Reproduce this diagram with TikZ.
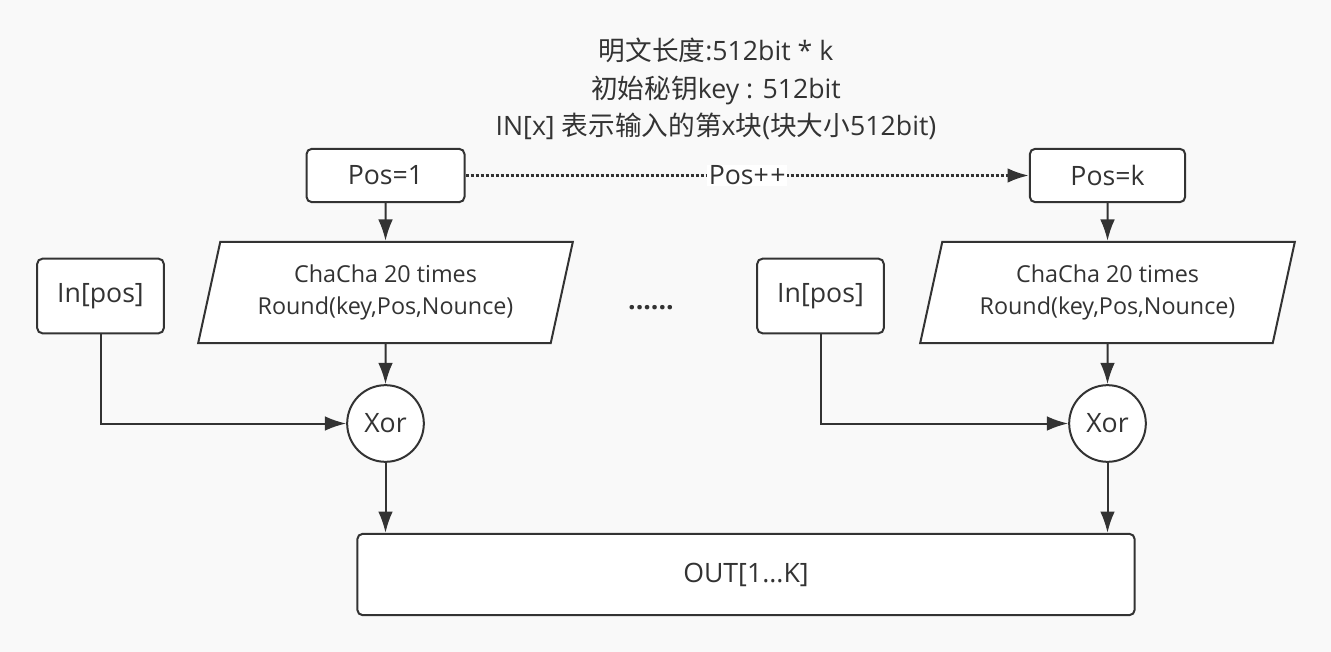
\documentclass[tikz,border=0pt]{standalone}
\usepackage{fontspec}
\setmainfont{Open Sans}
\newfontfamily\cjk{Noto Sans CJK SC}
\usetikzlibrary{arrows.meta,shapes.geometric,positioning}
\definecolor{ink}{HTML}{333333}
\definecolor{paper}{HTML}{F9F9F9}
\tikzset{
  box/.style={draw=ink,line width=1.5pt,fill=white,rounded corners=4pt,text=ink,font=\fontsize{20}{24}\selectfont},
  slantbox/.style={draw=ink,line width=1.5pt,fill=white,trapezium,trapezium left angle=71,trapezium right angle=109,
    trapezium stretches body,minimum width=281pt,minimum height=76pt,align=center,text=ink,font=\fontsize{17.5}{24}\selectfont},
  xorbox/.style={draw=ink,line width=1.5pt,fill=white,circle,minimum size=57.5pt,inner sep=0pt,text=ink,font=\fontsize{20}{24}\selectfont},
  flow/.style={draw=ink,line width=1.5pt,-{Latex[length=16pt,width=11pt]}},
}
\begin{document}
\begin{tikzpicture}[x=0.75pt,y=-0.75pt]
  \fill[paper] (0,0) rectangle (1331,652);
  \useasboundingbox (0,0) rectangle (1331,652);
  \node (note) at (716,89) [align=center,text=ink,font=\fontsize{20}{28}\selectfont]
    {{\cjk 明文长度}:512bit * k\\{\cjk 初始秘钥}key : 512bit\\IN[x] {\cjk 表示输入的第}x{\cjk 块}({\cjk 块大小}512bit)};
  % first block
  \node (pos1) at (385.5,175.5) [box,minimum width=118.5pt,minimum height=40pt] {Pos=1};
  \node (cha1) at (385.5,292.5) [slantbox] {ChaCha 20 times\\Round(key,Pos,Nounce)};
  \node (in1) at (100.5,296) [box,minimum width=95pt,minimum height=56pt] {In[pos]};
  \node (xor1) at (385.5,423.5) [xorbox] {Xor};
  % last block
  \node (posk) at (1107.5,175.5) [box,minimum width=116.5pt,minimum height=40pt] {Pos=k};
  \node (chak) at (1107.5,292.5) [slantbox] {ChaCha 20 times\\Round(key,Pos,Nounce)};
  \node (ink) at (820.5,296) [box,minimum width=95pt,minimum height=56pt] {In[pos]};
  \node (xork) at (1107.5,423.5) [xorbox] {Xor};
  \node (dots) at (651,308) [text=ink,font=\bfseries\fontsize{20}{24}\selectfont] {......};
  \node (out) at (746,574.5) [box,minimum width=583pt,minimum height=61pt] {OUT[1...K]};
  \coordinate (c1) at (100.5,423.5);
  \coordinate (ck) at (820.5,423.5);
  \draw[flow,line width=2pt,dash pattern=on 2.25pt off 1.5pt] (pos1) -- node[fill=white,text=ink,inner sep=1pt,font=\fontsize{20}{24}\selectfont] {Pos+\kern1pt+} (posk);
  \draw[flow] (pos1) -- (cha1);
  \draw[flow] (cha1) -- (xor1);
  \draw[flow] (in1) -- (c1) -- (xor1);
  \draw[flow] (xor1) -- (xor1 |- out.north);
  \draw[flow] (posk) -- (chak);
  \draw[flow] (chak) -- (xork);
  \draw[flow] (ink) -- (ck) -- (xork);
  \draw[flow] (xork) -- (xork |- out.north);
\end{tikzpicture}
\end{document}
